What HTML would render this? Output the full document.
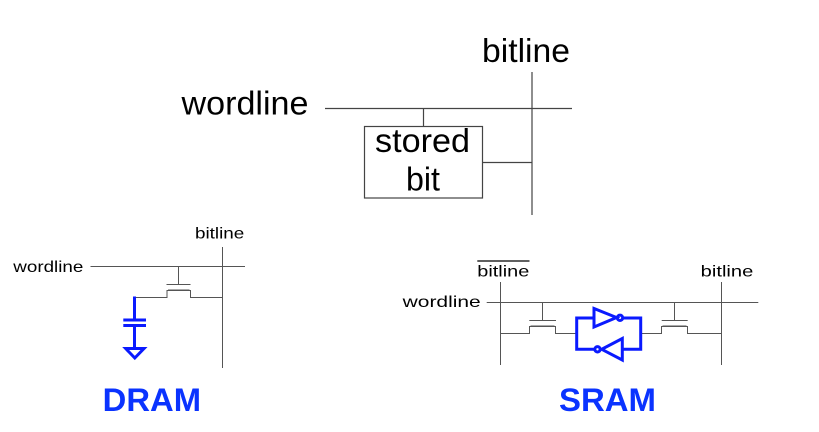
<!DOCTYPE html>
<html><head><meta charset="utf-8"><style>
html,body{margin:0;padding:0;background:#fff;}
svg{display:block;}
text{font-family:"Liberation Sans",Arial,sans-serif;}
</style></head><body>
<svg width="819" height="432" viewBox="0 0 819 432" xmlns="http://www.w3.org/2000/svg">
<rect width="819" height="432" fill="#fff"/>
<!-- Top generic cell -->
<g stroke="#444" stroke-width="1.2" fill="none">
  <line x1="325" y1="108.5" x2="572" y2="108.5"/>
  <line x1="532" y1="72" x2="532" y2="215"/>
  <line x1="423.5" y1="108.5" x2="423.5" y2="126"/>
  <rect x="364.5" y="126.5" width="118" height="71.5"/>
  <line x1="482.5" y1="162.5" x2="532" y2="162.5"/>
</g>
<text x="482" y="62" font-size="33" textLength="88" lengthAdjust="spacingAndGlyphs" fill="#000">bitline</text>
<text x="181.5" y="114.5" font-size="33" textLength="127" lengthAdjust="spacingAndGlyphs" fill="#000">wordline</text>
<text x="375" y="152" font-size="33" textLength="95" lengthAdjust="spacingAndGlyphs" fill="#000">stored</text>
<text x="406" y="190.5" font-size="33" textLength="34" lengthAdjust="spacingAndGlyphs" fill="#000">bit</text>

<!-- DRAM -->
<text x="195" y="238.7" font-size="16" textLength="49.3" lengthAdjust="spacingAndGlyphs" fill="#000">bitline</text>
<text x="13.3" y="272" font-size="16" textLength="70" lengthAdjust="spacingAndGlyphs" fill="#000">wordline</text>
<g stroke="#555" stroke-width="1" fill="none">
  <line x1="90.5" y1="266.5" x2="245" y2="266.5"/>
  <line x1="222.5" y1="247" x2="222.5" y2="368"/>
  <line x1="178.5" y1="266.5" x2="178.5" y2="284.5"/>
  <line x1="166.5" y1="284.5" x2="190.5" y2="284.5"/>
  <polyline points="135,297.5 167,297.5 167,290.5 190.5,290.5 190.5,297.5 222.5,297.5"/>
</g>
<line x1="168" y1="289.5" x2="189.5" y2="289.5" stroke="#aaa" stroke-width="1"/>
<g stroke="#0a1aff" stroke-width="3" fill="none">
  <line x1="134.5" y1="296.5" x2="134.5" y2="320"/>
  <line x1="123.3" y1="320" x2="146" y2="320"/>
  <line x1="123.3" y1="325.5" x2="146" y2="325.5"/>
  <line x1="134.5" y1="325.5" x2="134.5" y2="348.5"/>
  <polygon points="125.7,348.5 144,348.5 134.8,358"/>
</g>
<text x="102.7" y="411" font-size="32.5" font-weight="bold" fill="#0a33ff" textLength="98.3" lengthAdjust="spacingAndGlyphs">DRAM</text>

<!-- SRAM -->
<text x="477.3" y="276.7" font-size="16" textLength="52" lengthAdjust="spacingAndGlyphs" fill="#000">bitline</text>
<line x1="477.3" y1="261" x2="529.5" y2="261" stroke="#000" stroke-width="1.3"/>
<text x="700.7" y="276.7" font-size="16" textLength="52.6" lengthAdjust="spacingAndGlyphs" fill="#000">bitline</text>
<text x="402.7" y="307" font-size="16" textLength="78" lengthAdjust="spacingAndGlyphs" fill="#000">wordline</text>
<g stroke="#555" stroke-width="1" fill="none">
  <line x1="486.7" y1="302.5" x2="758.3" y2="302.5"/>
  <line x1="500.5" y1="282" x2="500.5" y2="365"/>
  <line x1="721.5" y1="282" x2="721.5" y2="365"/>
  <line x1="542.5" y1="302.5" x2="542.5" y2="320.5"/>
  <line x1="529.3" y1="320.5" x2="556" y2="320.5"/>
  <polyline points="500.5,333.5 529.5,333.5 529.5,326.5 555.5,326.5 555.5,333.5 576,333.5"/>
  <line x1="674.5" y1="302.5" x2="674.5" y2="320.5"/>
  <line x1="661.7" y1="320.5" x2="687.7" y2="320.5"/>
  <polyline points="641,333.5 661.5,333.5 661.5,326.5 687.5,326.5 687.5,333.5 721.5,333.5"/>
</g>
<line x1="530.5" y1="325.5" x2="554.5" y2="325.5" stroke="#aaa" stroke-width="1"/>
<line x1="662.5" y1="325.5" x2="686.5" y2="325.5" stroke="#aaa" stroke-width="1"/>
<g stroke="#0a1aff" stroke-width="3" fill="none">
  <polyline points="594,318 576.7,318 576.7,349.3 594.5,349.3"/>
  <polyline points="623.5,318 640.7,318 640.7,349.3 622.3,349.3"/>
  <polygon points="594,308.5 594,327 616.5,317.5"/>
  <circle cx="620" cy="317.8" r="2.7"/>
  <polygon points="622.3,338.5 622.3,360 601.7,349.3"/>
  <circle cx="597.5" cy="349.3" r="2.7"/>
</g>
<text x="559" y="411" font-size="32.5" font-weight="bold" fill="#0a33ff" textLength="97" lengthAdjust="spacingAndGlyphs">SRAM</text>
</svg>
</body></html>
